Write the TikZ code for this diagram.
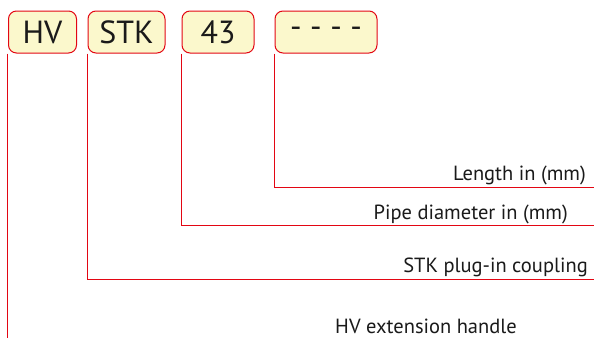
\documentclass[tikz,border=0pt]{standalone}
\usepackage{fontspec}
\setmainfont{PT Sans}
\usepackage{xcolor}
\usepackage{tikz}
\usetikzlibrary{positioning}
\definecolor{CodeRed}{HTML}{E30613}
\definecolor{CodeFill}{HTML}{FBF8CC}
\definecolor{CodeText}{HTML}{1A1A1A}
\tikzset{
  codebox/.style={draw=CodeRed,fill=CodeFill,rounded corners=8pt,line width=1pt,
    minimum height=42pt,inner sep=0pt,
    font=\fontsize{32}{34}\selectfont\color{CodeText}},
  leader/.style={draw=CodeRed,line width=0.9pt},
  desc/.style={font=\fontsize{20.5}{23}\selectfont\color{CodeText},inner sep=0pt,anchor=base east},
}
\begin{document}
\begin{tikzpicture}[x=1pt,y=-1pt]
  \useasboundingbox (0,0) rectangle (594,338);
  % Code boxes
  \node[codebox,minimum width=68pt]  (hv)   at (42.5,32) {HV};
  \node[codebox,minimum width=77pt]  (stk)  at (126.5,32) {STK};
  \node[codebox,minimum width=72pt]  (dia)  at (218,32) {43};
  \node[codebox,minimum width=102pt] (len)  at (326,32) {- - - -};
  % Line ends
  \coordinate (lenend) at (594,187);
  \coordinate (diaend) at (594,225.5);
  \coordinate (stkend) at (594,279);
  \coordinate (hvend)  at (7,338);
  % Descriptions
  \node[desc] (lenlbl) at (586,180) {Length in (mm)};
  \node[desc] (dialbl) at (568,219) {Pipe diameter in (mm)};
  \node[desc] (stklbl) at (588,272) {STK plug-in coupling};
  \node[desc] (hvlbl)  at (517,333) {HV extension handle};
  % Leaders
  \draw[leader] (len.south west) |- (lenend);
  \draw[leader] (dia.south west) |- (diaend);
  \draw[leader] (stk.south west) |- (stkend);
  \draw[leader] ([xshift=-1pt]hv.south west) -- (hvend);
\end{tikzpicture}
\end{document}
